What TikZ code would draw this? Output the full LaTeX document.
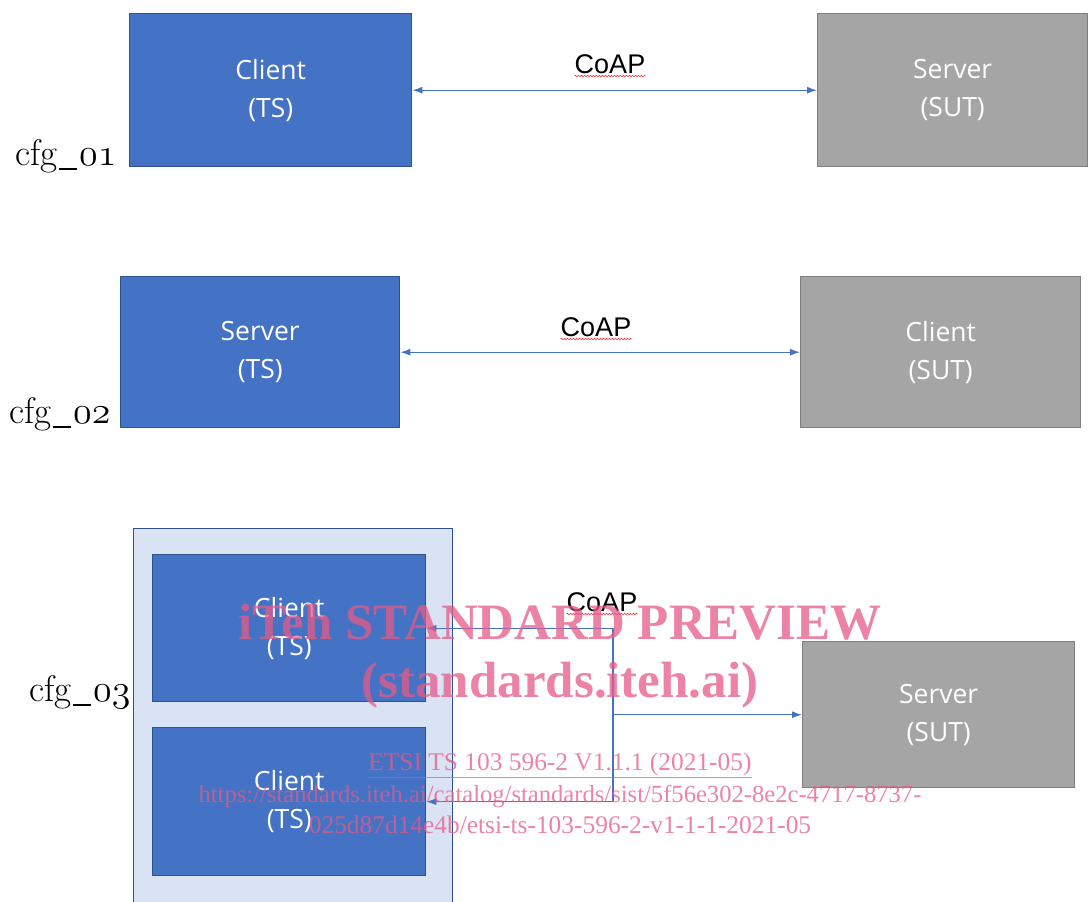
\RequirePackage{fix-cm}
\documentclass[tikz,border=0pt]{standalone}
\usepackage{fontspec}
\usetikzlibrary{arrows.meta,decorations.pathmorphing}
\newfontfamily\boxfont{Open Sans}
\newfontfamily\arialfont{Liberation Sans}
\newfontfamily\timesfont{Liberation Serif}
\newcommand{\osn}[1]{{\fontencoding{OML}\fontfamily{cmm}\fontseries{m}\fontshape{it}\fontsize{38}{44}\selectfont#1}}
\newcommand{\usc}{\kern0.03em\rule[-0.13em]{0.5em}{0.045em}\kern0.06em}
\definecolor{bluefill}{HTML}{4472C4}
\definecolor{blueline}{HTML}{2F528F}
\definecolor{grayfill}{HTML}{A5A5A5}
\definecolor{grayline}{HTML}{7F7F7F}
\definecolor{lightfill}{HTML}{DAE3F3}
\definecolor{wmpink}{RGB}{229,90,135}
\tikzset{
  bluebox/.style={draw=blueline, fill=bluefill, line width=1.4, text=white, align=center,
    font=\boxfont\fontsize{26.5}{38}\selectfont, inner sep=0, anchor=north west},
  graybox/.style={draw=grayline, fill=grayfill, line width=1.4, text=white, align=center,
    font=\boxfont\fontsize{26.5}{38}\selectfont, inner sep=0, anchor=north west},
  outerbox/.style={draw=blueline, fill=lightfill, line width=1.2, inner sep=0, anchor=north west},
  conn/.style={draw=bluefill, line width=1.2},
  tip/.tip={Latex[length=10,width=7]},
  coap/.style={font=\arialfont\fontsize{27}{30}\selectfont, inner sep=0, anchor=base},
  cfglabel/.style={font=\fontsize{37}{40}\selectfont, inner sep=0, anchor=base west},
  squiggle/.style={draw=red!85!white, line width=0.6, decorate,
    decoration={snake, amplitude=0.7, segment length=3}},
  wm/.style={text=wmpink, text opacity=0.75, inner sep=0, anchor=base},
  wmbig/.style={wm, font=\timesfont\bfseries\fontsize{51}{55}\selectfont},
  wmsmall/.style={wm, font=\timesfont\fontsize{25.4}{28}\selectfont}
}
\begin{document}
\begin{tikzpicture}[x=1pt,y=-1pt]
\useasboundingbox (0,0) rectangle (1088,902);
% cfg_01
\node[bluebox, minimum width=282, minimum height=153] (c1) at (129,13) {Client\\(TS)};
\node[graybox, minimum width=270, minimum height=153] (s1) at (817,13) {Server\\(SUT)};
\draw[conn, tip-tip] (c1.east) -- (s1.west);
\node[coap] (coap1) at (610,73) {CoAP};
\draw[squiggle] ([yshift=-3]coap1.base west) -- ([yshift=-3]coap1.base east);
\node[cfglabel] (l1) at (15,165) {cfg\usc\osn{01}};
% cfg_02
\node[bluebox, minimum width=279, minimum height=151] (s2) at (120,276) {Server\\(TS)};
\node[graybox, minimum width=280, minimum height=151] (c2) at (800,276) {Client\\(SUT)};
\draw[conn, tip-tip] (s2.east) -- (c2.west);
\node[coap] (coap2) at (596,336) {CoAP};
\draw[squiggle] ([yshift=-3]coap2.base west) -- ([yshift=-3]coap2.base east);
\node[cfglabel] (l2) at (9,423) {cfg\usc\osn{02}};
% cfg_03
\node[outerbox, minimum width=319, minimum height=380] (o3) at (133,528) {};
\node[bluebox, minimum width=273, minimum height=147] (c3a) at (152,554) {Client\\(TS)};
\node[bluebox, minimum width=273, minimum height=148] (c3b) at (152,727) {Client\\(TS)};
\node[graybox, minimum width=272, minimum height=146] (s3) at (802,641) {Server\\(SUT)};
\coordinate (jx) at (613,0);
\draw[conn, -tip] (jx |- s3.west) -- (s3.west);
\draw[conn, -tip] (jx |- c3a.east) -- (c3a.east);
\draw[conn, -tip] (jx |- c3b.east) -- (c3b.east);
\draw[conn] (jx |- c3a.east) -- (jx |- c3b.east);
\node[coap] (coap3) at (602,611) {CoAP};
\draw[squiggle] ([yshift=-3]coap3.base west) -- ([yshift=-3]coap3.base east);
\node[cfglabel] (l3) at (29,701) {cfg\usc\osn{03}};
% watermark
\node[wmbig] (wm1) at (560,639) {iTeh STANDARD PREVIEW};
\node[wmbig] (wm2) at (560,697) {(standards.iteh.ai)};
\node[wmsmall] (wm3) at (560,770) {\underline{ETSI TS 103 596-2 V1.1.1 (2021-05)}};
\node[wmsmall, font=\timesfont\fontsize{24.6}{28}\selectfont] (wm4) at (560,802) {https://standards.iteh.ai/catalog/standards/sist/5f56e302-8e2c-4717-8737-};
\node[wmsmall] (wm5) at (560,833) {025d87d14e4b/etsi-ts-103-596-2-v1-1-1-2021-05};
\end{tikzpicture}
\end{document}
